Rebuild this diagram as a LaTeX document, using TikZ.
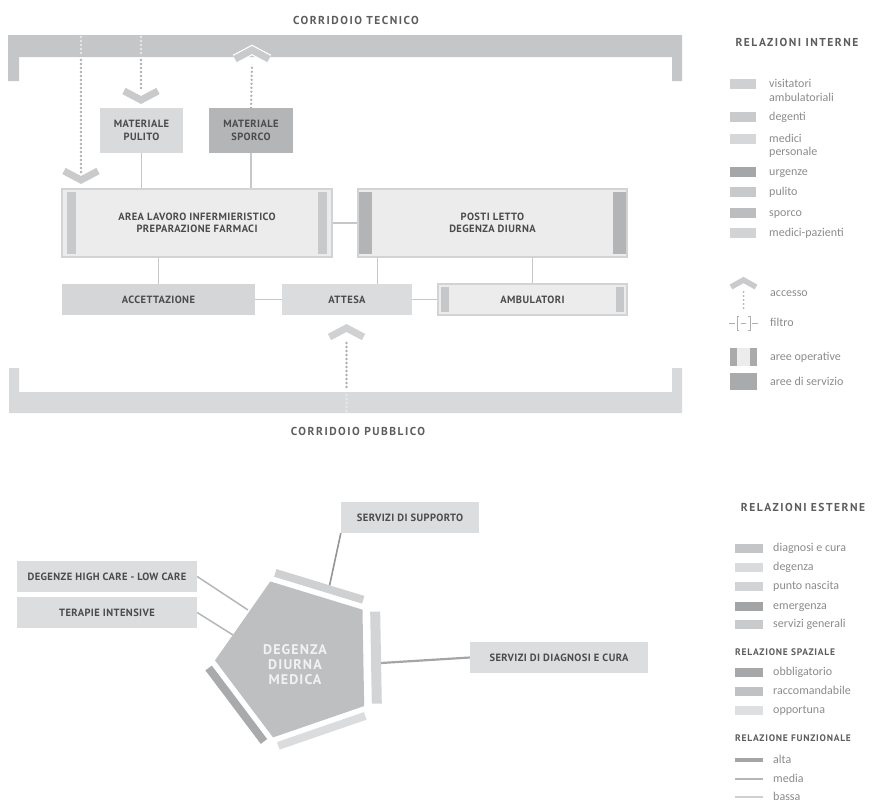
\documentclass[tikz,border=0pt]{standalone}
\usepackage{fontspec}
\setmainfont{Carlito}
\newfontfamily\capfont[LetterSpace=4]{PT Sans}
\newfontfamily\capmid[LetterSpace=8]{PT Sans}
\newfontfamily\capwide[LetterSpace=13]{PT Sans}
\usetikzlibrary{positioning}

\definecolor{corrtop}{HTML}{C5C6C8}
\definecolor{corrbot}{HTML}{D8D9DA}
\definecolor{labtext}{HTML}{4A4B4D}
\definecolor{legtxt}{HTML}{8A8B8D}
\definecolor{linkgrey}{HTML}{C6C7C9}
\definecolor{dotgrey}{HTML}{AEAFB1}
\definecolor{dotlight}{HTML}{E8E8E9}
\definecolor{chevtop}{HTML}{C9CACC}
\definecolor{chevbot}{HTML}{D0D1D2}
\definecolor{pulfill}{HTML}{D9DADB}
\definecolor{spofill}{HTML}{B4B5B7}
\definecolor{opfill}{HTML}{ECECED}
\definecolor{opedge}{HTML}{D2D3D4}
\definecolor{opstrip}{HTML}{C8C9CB}
\definecolor{postrip}{HTML}{B3B4B6}
\definecolor{ambstrip}{HTML}{C6C7C8}
\definecolor{accfill}{HTML}{D5D6D7}
\definecolor{attfill}{HTML}{DBDCDD}
\definecolor{extfill}{HTML}{DCDDDE}
\definecolor{pentfill}{HTML}{BEBFC1}
\definecolor{sTop}{HTML}{CFD0D1}
\definecolor{sRgt}{HTML}{D3D4D5}
\definecolor{sBot}{HTML}{DBDCDD}
\definecolor{sLft}{HTML}{A9AAAC}
% legenda
\definecolor{iVis}{HTML}{CFD0D1}
\definecolor{iDeg}{HTML}{C9CACB}
\definecolor{iMed}{HTML}{D6D7D8}
\definecolor{iUrg}{HTML}{A5A6A8}
\definecolor{iPul}{HTML}{C8C9CA}
\definecolor{iSpo}{HTML}{BCBDBF}
\definecolor{iMP}{HTML}{D2D3D4}
\definecolor{eDia}{HTML}{C4C5C7}
\definecolor{eDeg}{HTML}{DADBDC}
\definecolor{ePun}{HTML}{D2D3D4}
\definecolor{eEme}{HTML}{A3A4A6}
\definecolor{eSer}{HTML}{C9CACC}
\definecolor{rObb}{HTML}{A6A7A9}
\definecolor{rRac}{HTML}{C0C1C3}
\definecolor{rOpp}{HTML}{DEDFE0}
\definecolor{fAlta}{HTML}{A4A5A7}
\definecolor{fMed}{HTML}{B5B6B8}
\definecolor{fBas}{HTML}{CFD0D1}

\tikzset{
  lbl/.style={font=\capfont\bfseries\fontsize{10.5}{12.5}\selectfont, text=labtext, align=center, inner sep=0pt},
  box/.style={lbl, fill=#1, minimum height=31},
  opbox/.style n args={5}{lbl, fill=#1, draw=#2, line width=1.5, minimum height=31,
    path picture={
      \fill[#3] ([xshift=#4,yshift=-3pt]path picture bounding box.north west) rectangle ([xshift=#4+#5,yshift=3pt]path picture bounding box.south west);
      \fill[#3] ([xshift=-#4,yshift=-3pt]path picture bounding box.north east) rectangle ([xshift=-#4-#5,yshift=3pt]path picture bounding box.south east);}},
  ctitle/.style={font=\capwide\bfseries\fontsize{11.5}{13}\selectfont, text=labtext!90, inner sep=0pt},
  subtitle/.style={font=\capmid\bfseries\fontsize{9.5}{11}\selectfont, text=labtext!90, inner sep=0pt, anchor=west},
  link/.style={draw=linkgrey, line width=1.5},
  dots/.style={draw=dotgrey, line width=2.6, dash pattern=on 0pt off 4pt, line cap=round},
  chev/.style={draw=white, line width=1.2, double=#1, double distance=7, line join=miter},
  legtext/.style={font=\fontsize{12}{14}\selectfont, text=legtxt, anchor=base west, inner sep=0pt},
}

\begin{document}
\begin{tikzpicture}[x=1pt,y=-1pt]
\useasboundingbox (0,0) rectangle (873,803);

% corridoi
\fill[corrtop] (8,35) -- (682,35) -- (682,81) -- (672,81) -- (672,57) -- (19,57) -- (19,81) -- (8,81) -- cycle;
\fill[corrbot] (9,368) -- (19,368) -- (19,392) -- (672,392) -- (672,368) -- (682,368) -- (682,413) -- (9,413) -- cycle;
\node[ctitle] (ctec) at (356,20) {CORRIDOIO TECNICO};
\node[ctitle] (cpub) at (358,431) {CORRIDOIO PUBBLICO};

% locali
\node[box=pulfill, minimum width=83, minimum height=45] (pulito) at (141.5,130.5) {MATERIALE\\PULITO};
\node[box=spofill, minimum width=84, minimum height=45] (sporco) at (251,130.5) {MATERIALE\\SPORCO};
\node[opbox={opfill}{opedge}{opstrip}{5pt}{9pt}, minimum width=270, minimum height=68] (area) at (197,223) {AREA LAVORO INFERMIERISTICO\\PREPARAZIONE FARMACI};
\node[opbox={opfill}{opedge}{postrip}{0pt}{14pt}, minimum width=269, minimum height=68] (posti) at (492.5,223) {POSTI LETTO\\DEGENZA DIURNA};
\node[box=accfill, minimum width=193] (accett) at (158.5,299.5) {ACCETTAZIONE};
\node[box=attfill, minimum width=130] (attesa) at (347,299.5) {ATTESA};
\node[opbox={opfill}{opedge}{ambstrip}{3pt}{8pt}, minimum width=189] (ambul) at (532.5,299.5) {AMBULATORI};

\coordinate (pa) at ([xshift=20pt]posti.south west);
\draw[link] (pulito.south) -- (pulito.south |- area.north);
\draw[link] (sporco.south) -- (sporco.south |- area.north);
\draw[link] (area.east) -- (posti.west);
\draw[link] (accett.north) -- (accett.north |- area.south);
\draw[link] (pa) -- (pa |- attesa.north);
\draw[link] (ambul.north) -- (ambul.north |- posti.south);
\draw[link] (accett.east) -- (attesa.west);
\draw[link] (attesa.east) -- (ambul.west);

% accessi
\coordinate (acc1) at (81,37);
\coordinate (acc1b) at (81,60);
\coordinate (acc1e) at (81,172);
\coordinate (acc2) at (141,37);
\coordinate (acc2b) at (141,60);
\coordinate (acc2e) at (141,91);
\coordinate (acc3) at (252,64);
\coordinate (acc4) at (346.5,343);
\coordinate (acc4b) at (346.5,390);
\coordinate (acc4e) at (346.5,412);
\draw[dots, draw=dotlight] (acc1) -- (acc1b |- 0,56);
\draw[dots] (acc1b) -- (acc1e);
\draw[dots, draw=dotlight] (acc2) -- (acc2b |- 0,56);
\draw[dots] (acc2b) -- (acc2e);
\draw[dots] (sporco.north) -- (acc3);
\draw[dots] (acc4) -- (acc4b);
\draw[dots, draw=dotlight] (acc4b |- 0,395) -- (acc4e);
\draw[chev=chevtop] (64,171) -- (81,180) -- (98,171);
\draw[chev=chevtop] (124,91) -- (141,100) -- (158,91);
\draw[chev=chevtop] (235,59) -- (252,50) -- (269,59);
\draw[chev=chevbot] (329.5,337) -- (346.5,328) -- (363.5,337);

% legenda relazioni interne
\node[ctitle] (relint) at (797,42) {RELAZIONI INTERNE};
\foreach \yy/\col/\lab [count=\i] in {84/iVis/visitatori, 117/iDeg/degenti, 139/iMed/medici, 172/iUrg/urgenze, 192/iPul/pulito, 213/iSpo/sporco, 233/iMP/medici-pazienti}
{
  \fill[\col] (730,\yy-5) rectangle (756,\yy+5);
  \node[legtext] (li\i) at (769,\yy+3.5) {\lab};
}
\node[legtext] (li1b) at (769,101.5) {ambulatoriali};
\node[legtext] (li3b) at (769,155.5) {personale};

\draw[chev=chevtop, double distance=5.5] (731,287) -- (743.5,280) -- (756,287);
\coordinate (sacc) at (743.5,292);
\draw[dots, line width=2] (sacc) -- (sacc |- 0,308);
\node[legtext] (lacc) at (770,296.5) {accesso};
\draw[dotgrey, line width=1] (729,323) -- (735,323) (739,316) -- (737,316) -- (737,330) -- (739,330)
  (741,323) -- (746,323) (748,316) -- (750,316) -- (750,330) -- (748,330) (752,323) -- (758,323);
\node[legtext] (lfil) at (770,326.5) {filtro};
\fill[opfill] (730,348) rectangle (757,366);
\fill[sLft] (730,348) rectangle (737,366);
\fill[sLft] (750,348) rectangle (757,366);
\node[legtext] (lope) at (770,360.5) {aree operative};
\fill[sLft] (730,373) rectangle (757,390);
\node[legtext] (lser) at (770,385) {aree di servizio};

% relazioni esterne
\node[box=extfill, minimum width=138] (supporto) at (410,517.5) {SERVIZI DI SUPPORTO};
\node[box=extfill, minimum width=178] (diagnosi) at (559,657.5) {SERVIZI DI DIAGNOSI E CURA};
\node[box=extfill, minimum width=180] (highcare) at (107,576.5) {DEGENZE HIGH CARE - LOW CARE};
\node[box=extfill, minimum width=180] (terapie) at (107,612.5) {TERAPIE INTENSIVE};

\coordinate (pN) at (329,588);
\coordinate (pE) at (381,663);
\coordinate (pW1) at (248,610);
\coordinate (pW2) at (233,635);
\draw[draw=fAlta!90!black, line width=1.6] (supporto.south west) -- (pN);
\draw[draw=fAlta, line width=2.2] (diagnosi.west) -- (pE);
\draw[draw=fMed, line width=1.5] (highcare.east) -- (pW1);
\draw[draw=fMed, line width=1.5] (terapie.east) -- (pW2);

\begin{scope}[shift={(297,659)}]
\fill[pentfill] (-181:82) -- (-109:82) -- (-37:82) -- (35:82) -- (107:82) -- cycle;
\foreach \a/\col/\d/\w in {-73/sTop/72/8, -1/sRgt/74/10, 71/sBot/72/8, 143/sLft/72/8}
  \fill[\col] (\a:\d) ++(\a+90:46) -- ++(\a-90:92) -- ++(\a:\w) -- ++(\a+90:92) -- cycle;
\end{scope}
\node[font=\capmid\bfseries\fontsize{14}{15}\selectfont, text=white!95!black, align=center, inner sep=0pt] (ddm) at (295,665) {DEGENZA\\DIURNA\\MEDICA};

% legenda relazioni esterne
\node[ctitle] (relest) at (803,507) {RELAZIONI ESTERNE};
\foreach \yy/\col/\lab [count=\i] in {548/eDia/diagnosi e cura, 567/eDeg/degenza, 586/ePun/punto nascita, 606/eEme/emergenza, 624/eSer/servizi generali, 672/rObb/obbligatorio, 691/rRac/raccomandabile, 710/rOpp/opportuna}
{
  \fill[\col] (735,\yy-4.5) rectangle (763,\yy+4.5);
  \node[legtext] (le\i) at (773,\yy+3.5) {\lab};
}
\node[subtitle] (rspa) at (735,652) {RELAZIONE SPAZIALE};
\node[subtitle] (rfun) at (735,738) {RELAZIONE FUNZIONALE};
\foreach \yy/\w/\col/\lab [count=\i] in {760/3.5/fAlta/alta, 779/2.2/fMed/media, 797/1.2/fBas/bassa}
{
  \draw[\col, line width=\w] (735,\yy) -- (763,\yy);
  \node[legtext] (lf\i) at (773,\yy+3.5) {\lab};
}
\end{tikzpicture}
\end{document}
